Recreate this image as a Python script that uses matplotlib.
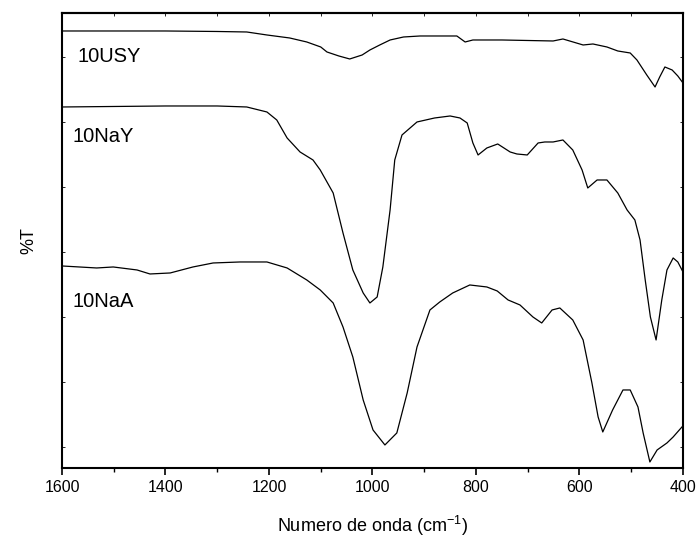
import matplotlib
matplotlib.use("Agg")
from matplotlib import pyplot as plt
from matplotlib.ticker import MultipleLocator

# FTIR spectra (wavenumber in cm-1, %T in arbitrary units)
usy_w = [1600, 1500, 1400, 1300, 1243, 1204, 1160, 1127, 1100, 1088, 1065, 1044,
         1020, 1005, 986, 966, 940, 908, 837, 821, 806, 750, 651, 632, 593, 574,
         547, 526, 502, 489, 470, 454, 445, 435, 421, 410, 400]
usy_t = [437, 437, 437, 436.5, 436, 433, 430, 426, 421, 416, 412, 409,
         413, 418, 423, 428, 431, 432, 432, 426, 428, 428, 427, 429, 423, 424,
         421, 417, 415, 408, 393, 381, 391, 401, 398, 392, 385]

nay_w = [1600, 1400, 1300, 1243, 1204, 1185, 1165, 1140, 1115, 1101, 1076, 1057,
         1038, 1018, 1005, 991, 980, 966, 957, 943, 914, 880, 850, 831, 817,
         806, 796, 779, 758, 734, 721, 701, 680, 667, 651, 632, 613, 595, 584,
         566, 547, 526, 508, 493, 483, 473, 463, 452, 441, 431, 419, 410, 400]
nay_t = [361, 362, 362, 361, 356, 348, 330, 316, 308, 298, 275, 235,
         198, 175, 165, 171, 201, 258, 308, 333, 346, 350, 352, 350, 345,
         325, 313, 320, 324, 316, 314, 313, 325, 326, 326, 328, 318, 298, 280,
         288, 288, 275, 258, 248, 228, 188, 151, 128, 168, 198, 210, 206, 196]

naa_w = [1600, 1533, 1501, 1455, 1430, 1391, 1347, 1308, 1256, 1204, 1165, 1127,
         1101, 1076, 1057, 1038, 1018, 999, 976, 953, 933, 914, 889, 870, 845,
         812, 779, 759, 738, 715, 690, 673, 653, 638, 613, 593, 576, 564, 555,
         536, 516, 502, 487, 477, 464, 450, 431, 419, 402, 400]
naa_t = [202, 200, 201, 198, 194, 195, 201, 205, 206, 206, 200, 188,
         178, 165, 141, 111, 68, 38, 23, 35, 75, 121, 158, 166, 175,
         183, 181, 177, 168, 163, 151, 145, 158, 160, 148, 128, 85, 51, 36,
         58, 78, 78, 61, 35, 6, 18, 25, 31, 41, 42]

labels = ["10USY", "10NaY", "10NaA"]
label_x = [1570, 1580, 1580]
label_y = [411, 331, 166]

plt.rcParams['font.family'] = ['Liberation Sans', 'DejaVu Sans']
plt.rcParams['mathtext.default'] = 'regular'

fig = plt.figure(figsize=(6.99, 5.41), dpi=100)
ax = fig.add_axes([0.0887, 0.135, 0.8884, 0.841])

for w, t in [(usy_w, usy_t), (nay_w, nay_t), (naa_w, naa_t)]:
    ax.plot(w, t, color="black", lw=0.9)

for lab, x, y in zip(labels, label_x, label_y):
    ax.text(x, y, lab, fontsize=14.5, va="center", ha="left")

ax.set_xlim(1600, 400)
ax.set_ylim(0, 455)
ax.xaxis.set_major_locator(MultipleLocator(200))
ax.xaxis.set_minor_locator(MultipleLocator(100))
ax.tick_params(axis="x", which="major", direction="out", length=5, width=1.2, labelsize=11.5)
ax.tick_params(axis="x", which="minor", direction="out", length=3, width=1)
ax.set_yticks([21, 86, 151, 216, 281, 346, 411])
ax.tick_params(axis="y", which="major", direction="in", length=2, width=0.6,
               left=True, right=True, labelleft=False)

top = ax.secondary_xaxis("top")
top.xaxis.set_major_locator(MultipleLocator(100))
top.tick_params(direction="in", length=2, width=0.6, labeltop=False)
top.spines["top"].set_linewidth(1.5)

for s in ax.spines.values():
    s.set_linewidth(1.5)

ax.set_xlabel("Numero de onda (cm$^{-1}$)", fontsize=13, labelpad=14)
ax.set_ylabel("%T", fontsize=13, labelpad=18)

fig.savefig("out.png", dpi=100)
